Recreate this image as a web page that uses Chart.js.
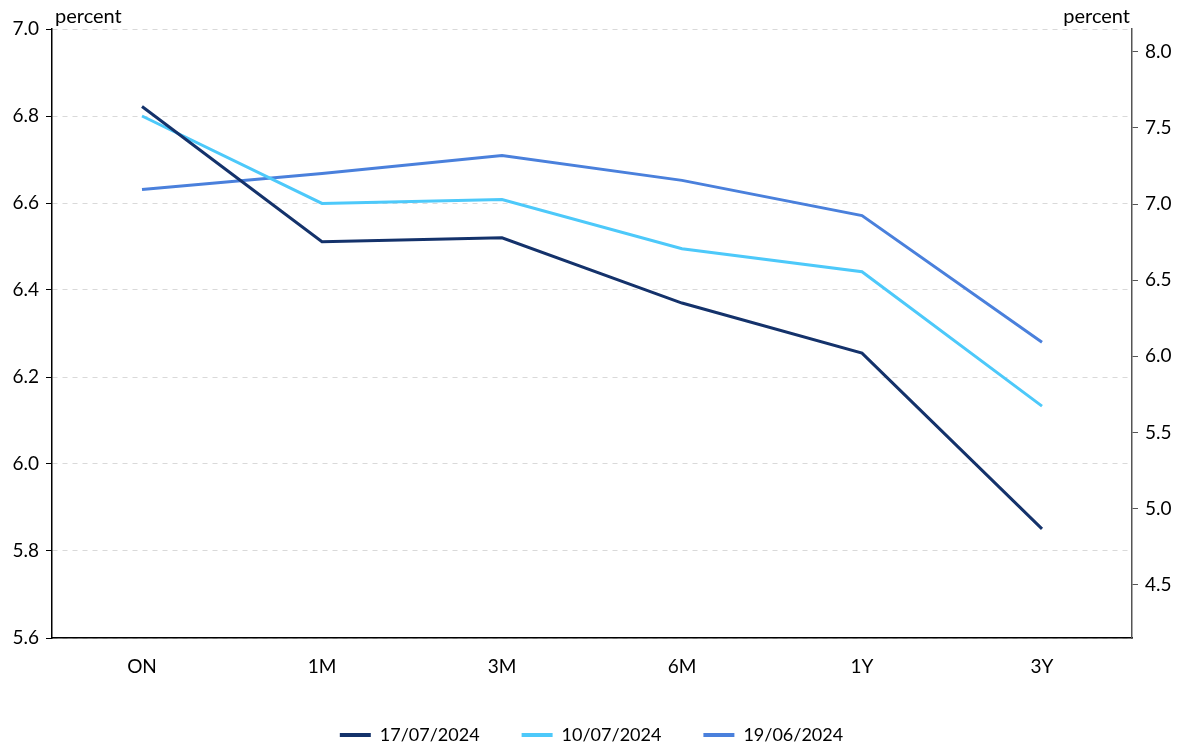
<!DOCTYPE html>
<html>
<head>
<meta charset="utf-8">
<script src="https://cdn.jsdelivr.net/npm/chart.js@4/dist/chart.umd.min.js"></script>
<style>
  html, body { margin: 0; padding: 0; background: #fff; }
  #wrap { width: 1183px; height: 744px; }
</style>
</head>
<body>
<div id="wrap"><canvas id="curveChart"></canvas></div>
<script>
// Categories (tenors)
const tenors = ['ON', '1M', '3M', '6M', '1Y', '3Y'];

// Series values (percent)
const jul17 = [6.822, 6.511, 6.520, 6.370, 6.255, 5.851];
const jul10 = [6.800, 6.599, 6.608, 6.495, 6.442, 6.133];
const jun19 = [6.631, 6.668, 6.709, 6.652, 6.571, 6.280];

const seriesLabels = ['17/07/2024', '10/07/2024', '19/06/2024'];
const seriesColors = ['#14326b', '#4dc9fa', '#4a80dc'];

// Tick labels on the right-hand axis
const rightTicks = [4.5, 5.0, 5.5, 6.0, 6.5, 7.0, 7.5, 8.0];

const FONT = 'Lato, "Open Sans", sans-serif';

// Axis unit captions above both axes
const unitLabels = {
  id: 'unitLabels',
  afterDraw(chart) {
    const {ctx, chartArea} = chart;
    ctx.save();
    ctx.fillStyle = '#000';
    ctx.font = '20px ' + FONT;
    ctx.textBaseline = 'alphabetic';
    ctx.textAlign = 'left';
    ctx.fillText('percent', chartArea.left + 3, 23);
    ctx.textAlign = 'right';
    ctx.fillText('percent', chartArea.right - 2, 23);
    ctx.restore();
  }
};

const ctx = document.getElementById('curveChart').getContext('2d');
new Chart(ctx, {
  type: 'line',
  data: {
    labels: tenors,
    datasets: [jul17, jul10, jun19].map((vals, i) => ({
      label: seriesLabels[i],
      data: vals,
      borderColor: seriesColors[i],
      backgroundColor: seriesColors[i],
      borderWidth: 3,
      pointRadius: 0,
      tension: 0,
      yAxisID: 'y'
    }))
  },
  options: {
    responsive: true,
    maintainAspectRatio: false,
    animation: false,
    layout: { padding: { top: 29, left: 0, right: 0, bottom: 0 } },
    scales: {
      x: {
        offset: true,
        grid: { display: false, drawTicks: false },
        border: { display: true, color: '#000', width: 1.5 },
        ticks: { color: '#000', font: { family: FONT, size: 19 }, padding: 17, maxRotation: 0 },
        afterFit(scale) { scale.height = 46; }
      },
      y: {
        position: 'left',
        min: 5.6,
        max: 7.0,
        ticks: {
          stepSize: 0.2,
          color: '#000',
          font: { family: FONT, size: 19 },
          padding: 7,
          callback: v => v.toFixed(1)
        },
        grid: {
          color: '#d9d9d9',
          tickColor: '#000',
          tickLength: 6,
          tickBorderDash: []
        },
        border: { color: '#000', width: 1.5, dash: [5, 5] },
        afterFit(scale) { scale.width = 52; }
      },
      y2: {
        position: 'right',
        min: 4.15,
        max: 8.15,
        afterBuildTicks(scale) { scale.ticks = rightTicks.map(v => ({ value: v })); },
        ticks: {
          color: '#000',
          font: { family: FONT, size: 19 },
          padding: 7,
          callback: v => v.toFixed(1)
        },
        grid: { drawOnChartArea: false, tickColor: '#555', tickLength: 6 },
        border: { color: '#555', width: 1.5 },
        afterFit(scale) { scale.width = 51; }
      }
    },
    plugins: {
      legend: {
        position: 'bottom',
        maxHeight: 60,
        labels: {
          color: '#000',
          font: { family: FONT, size: 18 },
          boxWidth: 31,
          boxHeight: 4,
          padding: 42,
          generateLabels(chart) {
            return chart.data.datasets.map((ds, i) => ({
              text: ds.label,
              fillStyle: ds.borderColor,
              strokeStyle: ds.borderColor,
              lineWidth: 0,
              datasetIndex: i,
              hidden: false
            }));
          }
        }
      },
      tooltip: { enabled: false }
    }
  },
  plugins: [unitLabels]
});
</script>
</body>
</html>
